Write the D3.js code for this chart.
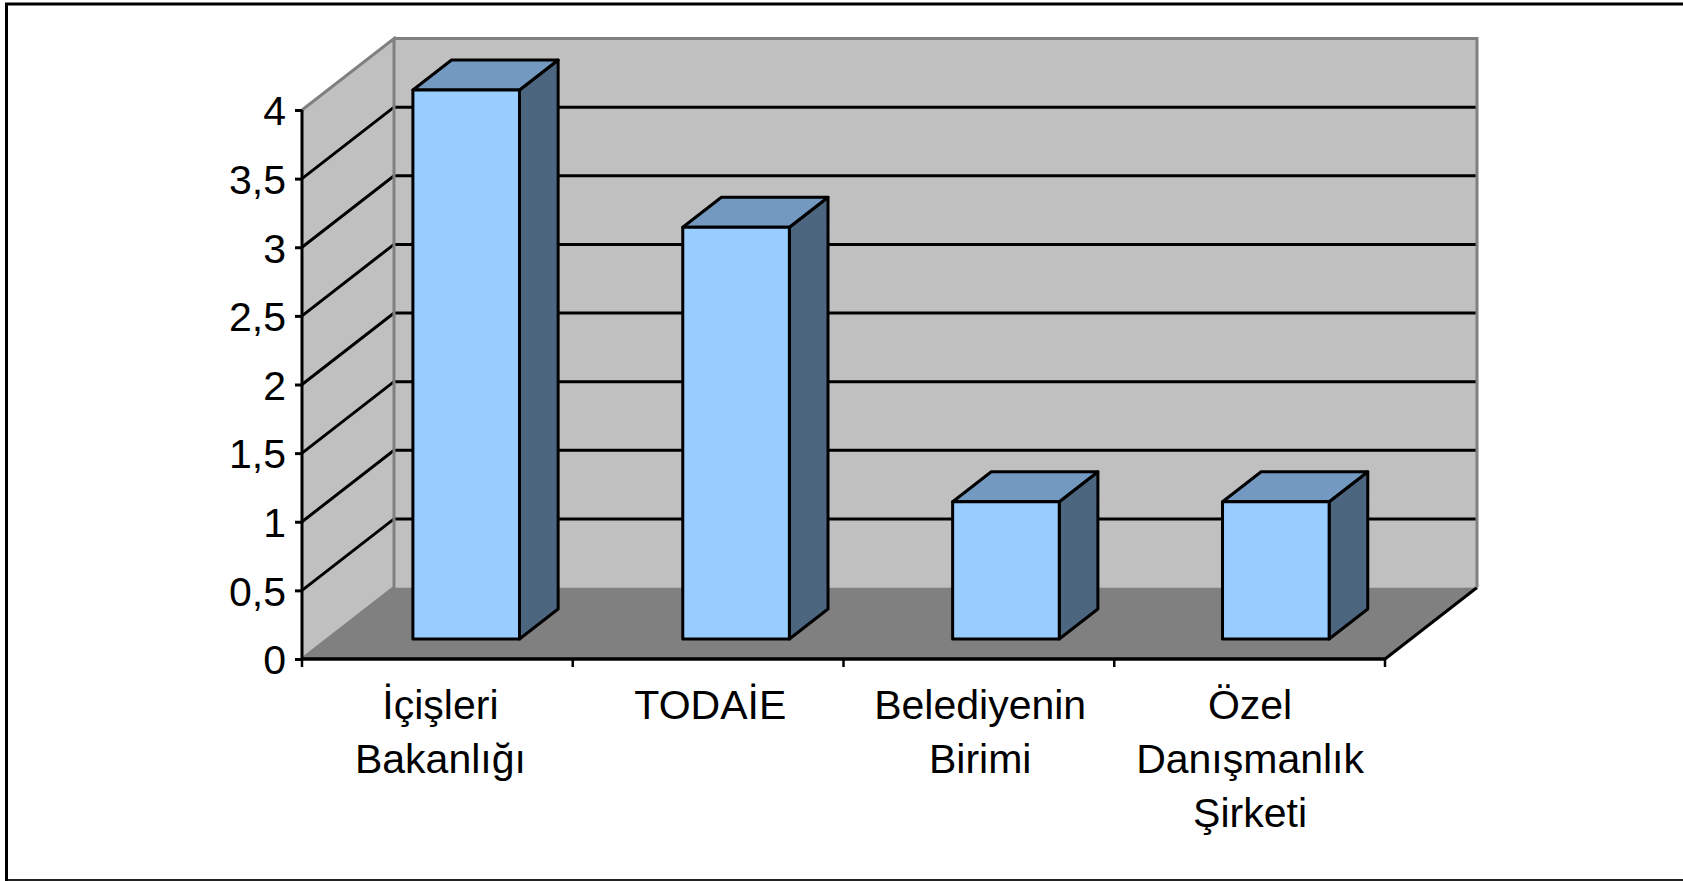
<!DOCTYPE html>
<html>
<head>
<meta charset="utf-8">
<script src="https://cdn.jsdelivr.net/npm/d3@7"></script>
<style>
    html, body { margin: 0; padding: 0; background: #fff; overflow: hidden; }
    svg { display: block; }
    text { font-family: "Liberation Sans", Arial, sans-serif; fill: #000; }
</style>
</head>
<body>
<div id="chart"></div>
<script>
const categories = [
    ['İçişleri', 'Bakanlığı'],
    ['TODAİE'],
    ['Belediyenin', 'Birimi'],
    ['Özel', 'Danışmanlık', 'Şirketi']
];
const values = [4, 3, 1, 1];
const yTicks = [0, 0.5, 1, 1.5, 2, 2.5, 3, 3.5, 4];

const size = {w: 1683, h: 881};
const plot = {left: 302, right: 1385, top: 110, bottom: 659};
const depth = {x: 92, y: -71.5};
const barDepth = [0.28, 0.7];

const svg = d3.select('#chart').append('svg')
    .attr('width', size.w)
    .attr('height', size.h);

// SCALES
// bars sit a little inside the axis ends, the ticks use the full width
let xScale = d3.scaleBand()
    .domain(d3.range(categories.length))
    .range([plot.left + 3.5, plot.right])
    .paddingInner(0.605)
    .paddingOuter(0.3025);

let xTicks = d3.scaleLinear()
    .domain([0, categories.length])
    .range([plot.left, plot.right]);

let yScale = d3.scaleLinear()
    .domain([0, 4])
    .range([plot.bottom, plot.top]);

let depthX = d3.scaleLinear().domain([0, 1]).range([0, depth.x]);
let depthY = d3.scaleLinear().domain([0, 1]).range([0, depth.y]);

// x, value, depth to a screen point
let pt = (x, v, z) => [x + depthX(z), yScale(v) + depthY(z)];
let poly = pts => 'M' + pts.map(p => p.join(',')).join('L') + 'Z';

// FRAME
svg.append('path')
    .attr('d', `M${size.w},4H6.5V${size.h}`)
    .attr('fill', 'none')
    .attr('stroke', '#000')
    .attr('stroke-width', 3);

svg.append('line')
    .attr('x1', 8).attr('x2', size.w)
    .attr('y1', 880).attr('y2', 880)
    .attr('stroke', '#222')
    .attr('stroke-width', 2);

// WALLS AND FLOOR
const [lo, hi] = yScale.domain();
const walls = svg.append('g');

walls.append('path')
    .attr('d', poly([pt(plot.left, lo, 1), pt(plot.right, lo, 1), pt(plot.right, hi, 1), pt(plot.left, hi, 1)]))
    .attr('fill', '#c0c0c0');

walls.append('path')
    .attr('d', poly([pt(plot.left, lo, 0), pt(plot.left, lo, 1), pt(plot.left, hi, 1), pt(plot.left, hi, 0)]))
    .attr('fill', '#c0c0c0');

walls.append('path')
    .attr('d', poly([pt(plot.left, lo, 0), pt(plot.right, lo, 0), pt(plot.right, lo, 1), pt(plot.left, lo, 1)]))
    .attr('fill', '#808080');

walls.append('line')
    .attr('x1', pt(plot.right, lo, 0)[0]).attr('y1', pt(plot.right, lo, 0)[1])
    .attr('x2', pt(plot.right, lo, 1)[0]).attr('y2', pt(plot.right, lo, 1)[1])
    .attr('stroke', '#000')
    .attr('stroke-width', 3);

// GRIDLINES
svg.append('g')
    .selectAll('path')
    .data(yTicks.filter(d => d > 0 && d < 4))
    .join('path')
    .attr('d', d => d3.line()([pt(plot.left, d, 0), pt(plot.left, d, 1), pt(plot.right, d, 1)]))
    .attr('fill', 'none')
    .attr('stroke', '#000')
    .attr('stroke-width', 3);

// wall edges go over the gridlines
svg.append('path')
    .attr('d', d3.line()([pt(plot.left, lo, 0), pt(plot.left, lo, 1), pt(plot.left, hi, 1), pt(plot.left, hi, 0)]))
    .attr('fill', 'none')
    .attr('stroke', '#808080')
    .attr('stroke-width', 3);

svg.append('path')
    .attr('d', d3.line()([pt(plot.left, hi, 1), pt(plot.right, hi, 1), pt(plot.right, lo, 1)]))
    .attr('fill', 'none')
    .attr('stroke', '#808080')
    .attr('stroke-width', 3);

// BARS
let bars = svg.append('g')
    .selectAll('g')
    .data(values)
    .join('g')
    .attr('stroke', '#000')
    .attr('stroke-width', 3)
    .attr('stroke-linejoin', 'round');

let x0 = (d, i) => xScale(i);
let x1 = (d, i) => xScale(i) + xScale.bandwidth();

bars.append('path')
    .attr('fill', '#4d6680')
    .attr('d', (d, i) => poly([pt(x1(d, i), 0, barDepth[0]), pt(x1(d, i), 0, barDepth[1]), pt(x1(d, i), d, barDepth[1]), pt(x1(d, i), d, barDepth[0])]));

bars.append('path')
    .attr('fill', '#7399c0')
    .attr('d', (d, i) => poly([pt(x0(d, i), d, barDepth[0]), pt(x1(d, i), d, barDepth[0]), pt(x1(d, i), d, barDepth[1]), pt(x0(d, i), d, barDepth[1])]));

bars.append('path')
    .attr('fill', '#99ccff')
    .attr('d', (d, i) => poly([pt(x0(d, i), 0, barDepth[0]), pt(x1(d, i), 0, barDepth[0]), pt(x1(d, i), d, barDepth[0]), pt(x0(d, i), d, barDepth[0])]));

// AXES
let yAxis = d3.axisLeft(yScale)
    .tickValues(yTicks)
    .tickSize(7)
    .tickPadding(9)
    .tickFormat(d => String(d).replace('.', ','));

let yG = svg.append('g')
    .attr('transform', `translate(${plot.left}, 0)`)
    .call(yAxis);
yG.selectAll('line, path').attr('stroke', '#000').attr('stroke-width', 3);
yG.select('.domain').attr('d', `M0,${plot.top}V${plot.bottom}`);
yG.selectAll('text')
    .attr('dy', '0.36em')
    .style('font-family', '"Liberation Sans", Arial, sans-serif')
    .style('font-size', '41px');

let xG = svg.append('g').attr('transform', `translate(0, ${plot.bottom})`);

xG.append('line')
    .attr('x1', plot.left).attr('x2', plot.right)
    .attr('stroke', '#000').attr('stroke-width', 3.5);

xG.selectAll('.tick')
    .data(d3.range(categories.length + 1))
    .join('line')
    .classed('tick', true)
    .attr('x1', i => xTicks(i))
    .attr('x2', i => xTicks(i))
    .attr('y2', 8)
    .attr('stroke', '#000').attr('stroke-width', 2.5);

xG.selectAll('.catLabel')
    .data(categories)
    .join('text')
    .classed('catLabel', true)
    .attr('text-anchor', 'middle')
    .style('font-size', '41px')
    .selectAll('tspan')
    .data((d, i) => d.map(t => ({t: t, i: i})))
    .join('tspan')
    .attr('x', d => xScale(d.i) + xScale.bandwidth() / 2)
    .attr('y', (d, j) => 60 + j * 54)
    .text(d => d.t);
</script>
</body>
</html>
